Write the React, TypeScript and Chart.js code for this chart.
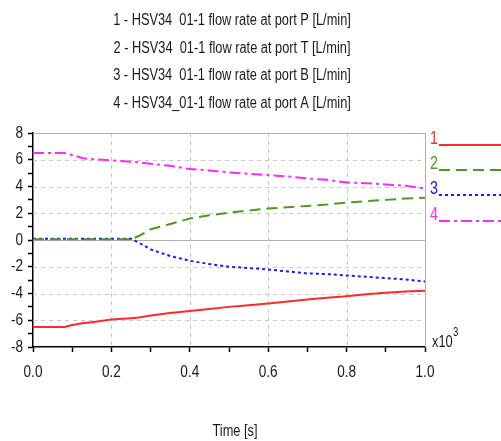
import React, { useEffect, useRef } from "react";
import { Chart, registerables } from "chart.js";

Chart.register(...registerables);

const FONT = "'Liberation Sans', Arial, sans-serif";
const NARROW = 0.8;

const titleLines = [
  "1 - HSV34  01-1 flow rate at port P [L/min]",
  "2 - HSV34  01-1 flow rate at port T [L/min]",
  "3 - HSV34  01-1 flow rate at port B [L/min]",
  "4 - HSV34_01-1 flow rate at port A [L/min]",
];
const legendLabels = ["1", "2", "3", "4"];
const seriesColors = ["#ff2a2a", "#4e9a1e", "#1a1aff", "#ff2aff"];
const seriesDashes: number[][] = [[], [11, 6], [3, 3], [11, 4, 3, 4]];

const time = [0, 0.05, 0.08, 0.1, 0.13, 0.15, 0.2, 0.25, 0.27, 0.3, 0.35, 0.4, 0.45, 0.5, 0.55, 0.6, 0.65, 0.7, 0.75, 0.8, 0.85, 0.9, 0.95, 1.0];
const portP = [-6.5, -6.5, -6.5, -6.35, -6.2, -6.15, -5.95, -5.85, -5.8, -5.65, -5.45, -5.3, -5.15, -5.0, -4.88, -4.75, -4.6, -4.45, -4.32, -4.2, -4.05, -3.95, -3.85, -3.8];
const portT = [0.05, 0.05, 0.05, 0.05, 0.05, 0.05, 0.05, 0.05, 0.3, 0.8, 1.2, 1.6, 1.85, 2.05, 2.2, 2.35, 2.45, 2.55, 2.65, 2.8, 2.9, 3.0, 3.1, 3.15];
const portB = [0.1, 0.1, 0.1, 0.1, 0.1, 0.1, 0.1, 0.1, -0.2, -0.7, -1.2, -1.55, -1.8, -2.0, -2.1, -2.2, -2.35, -2.5, -2.55, -2.65, -2.75, -2.85, -2.95, -3.1];
const portA = [6.5, 6.5, 6.5, 6.35, 6.1, 6.05, 5.95, 5.85, 5.8, 5.7, 5.55, 5.3, 5.2, 5.05, 4.95, 4.85, 4.75, 4.6, 4.5, 4.3, 4.25, 4.15, 4.05, 3.85];

const yTickLabels = [8, 6, 4, 2, 0, -2, -4, -6, -8];
const xTickLabels = [0, 0.2, 0.4, 0.6, 0.8, 1.0];
const yGrid = [-6, -4, -2, 2, 4, 6];
const xGrid = [0.2, 0.4, 0.6, 0.8];
const xAxisTitle = "Time [s]";

function narrowText(ctx: CanvasRenderingContext2D, text: string, x: number, y: number, size: number, align: CanvasTextAlign, color: string) {
  ctx.save();
  ctx.font = `${size}px ${FONT}`;
  ctx.fillStyle = color;
  ctx.textAlign = align;
  ctx.textBaseline = "middle";
  ctx.translate(x, y);
  ctx.scale(NARROW, 1);
  ctx.fillText(text, 0, 0);
  ctx.restore();
}

export default function App() {
  const ref = useRef<HTMLCanvasElement>(null);
  useEffect(() => {
    if (!ref.current) return;
    const series = [portP, portT, portB, portA];
    const gridPlugin = {
      id: "gridPlugin",
      beforeDatasetsDraw(chart: any) {
        const { ctx, chartArea: a, scales } = chart;
        const xs = scales.x, ys = scales.y;
        ctx.save();
        ctx.strokeStyle = "#c8c8c8";
        ctx.lineWidth = 1;
        ctx.setLineDash([4, 4]);
        yGrid.forEach((v) => {
          const y = Math.round(ys.getPixelForValue(v)) + 0.5;
          ctx.beginPath(); ctx.moveTo(a.left, y); ctx.lineTo(a.right, y); ctx.stroke();
        });
        xGrid.forEach((v) => {
          const x = Math.round(xs.getPixelForValue(v)) + 0.5;
          ctx.beginPath(); ctx.moveTo(x, a.top); ctx.lineTo(x, a.bottom); ctx.stroke();
        });
        ctx.setLineDash([]);
        ctx.strokeStyle = "#b0b0b0";
        const y0 = Math.round(ys.getPixelForValue(0)) + 0.5;
        ctx.beginPath(); ctx.moveTo(a.left, y0); ctx.lineTo(a.right, y0); ctx.stroke();
        const yt = Math.round(ys.getPixelForValue(8)) + 0.5;
        ctx.beginPath(); ctx.moveTo(a.left, yt); ctx.lineTo(a.right, yt); ctx.stroke();
        const xr = Math.round(xs.getPixelForValue(1)) + 0.5;
        ctx.beginPath(); ctx.moveTo(xr, a.top); ctx.lineTo(xr, a.bottom); ctx.stroke();
        ctx.restore();
      },
      afterDraw(chart: any) {
        const { ctx, chartArea: a, scales } = chart;
        const xs = scales.x, ys = scales.y;
        const dark = "#1a1a1a";
        titleLines.forEach((t, i) => narrowText(ctx, t, 232, 21 + i * 27.5, 16, "center", dark));
        narrowText(ctx, xAxisTitle, 235, 432, 16, "center", dark);
        yTickLabels.forEach((v) => narrowText(ctx, String(v), 23, ys.getPixelForValue(v), 17, "right", dark));
        xTickLabels.forEach((v) => narrowText(ctx, v.toFixed(1), xs.getPixelForValue(v), 372, 17, "center", dark));
        narrowText(ctx, "x10", a.right + 7, 343, 16, "left", dark);
        narrowText(ctx, "3", a.right + 28, 333, 12, "left", dark);
        const legY = [139, 164, 189, 215];
        legendLabels.forEach((l, i) => {
          narrowText(ctx, l, 430, legY[i], 18, "left", seriesColors[i]);
          ctx.save();
          ctx.strokeStyle = seriesColors[i];
          ctx.lineWidth = 2;
          ctx.setLineDash(seriesDashes[i]);
          ctx.beginPath();
          ctx.moveTo(439, legY[i] + 6);
          ctx.lineTo(501, legY[i] + 6);
          ctx.stroke();
          ctx.restore();
        });
      },
    };
    const chart = new Chart(ref.current, {
      type: "line",
      data: {
        datasets: series.map((s, i) => ({
          label: legendLabels[i],
          data: time.map((t, k) => ({ x: t, y: s[k] })),
          borderColor: seriesColors[i],
          borderWidth: 2,
          borderDash: seriesDashes[i],
          pointRadius: 0,
          fill: false,
          tension: 0,
        })),
      },
      options: {
        animation: false,
        responsive: true,
        maintainAspectRatio: false,
        layout: { padding: { top: 133, right: 76, bottom: 64, left: 0 } },
        plugins: { legend: { display: false }, tooltip: { enabled: false }, title: { display: false } },
        scales: {
          x: {
            type: "linear",
            min: 0,
            max: 1,
            afterFit: (s: any) => { s.height = 30; },
            ticks: { stepSize: 0.1, autoSkip: false, maxRotation: 0, display: false },
            grid: { drawOnChartArea: false, drawTicks: true, tickLength: 5, tickColor: "#000", tickWidth: 1.5 },
            border: { color: "#000", width: 1.5 },
          },
          y: {
            min: -8,
            max: 8,
            afterFit: (s: any) => { s.width = 33; },
            ticks: { stepSize: 1, autoSkip: false, display: false },
            grid: { drawOnChartArea: false, drawTicks: true, tickLength: 5, tickColor: "#000", tickWidth: 1.5 },
            border: { color: "#000", width: 1.5 },
          },
        },
      },
      plugins: [gridPlugin],
    } as any);
    return () => chart.destroy();
  }, []);
  return (
    <div style={{ position: "absolute", left: 0, top: 0, width: 501, height: 441, background: "#fff" }}>
      <canvas ref={ref} />
    </div>
  );
}
